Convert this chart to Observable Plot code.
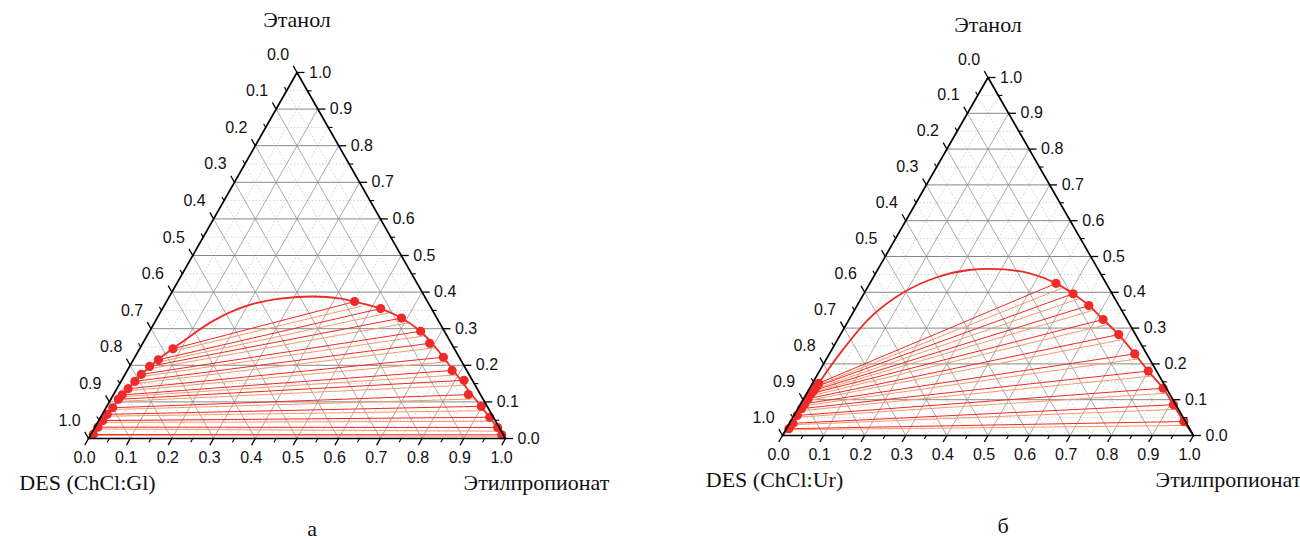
<!DOCTYPE html>
<html><head><meta charset="utf-8">
<script src="https://cdn.jsdelivr.net/npm/d3@7"></script>
<script src="https://cdn.jsdelivr.net/npm/@observablehq/plot@0.6"></script>
<style>
body{margin:0;background:#fff;}
#wrap{display:flex;width:1300px;height:540px;}
#wrap > div{width:650px;height:540px;}
</style></head><body><div id="wrap"><div id="a"></div><div id="b"></div></div>
<script>
// ---- axis values ----
const tickValues = [0,0.1,0.2,0.3,0.4,0.5,0.6,0.7,0.8,0.9,1.0];
const tickLabels = ["0.0","0.1","0.2","0.3","0.4","0.5","0.6","0.7","0.8","0.9","1.0"];
const minorValues = [0.05,0.15,0.25,0.35,0.45,0.55,0.65,0.75,0.85,0.95];
const gridValues = [0.1,0.2,0.3,0.4,0.5,0.6,0.7,0.8,0.9];
const vertexNames = ["Этанол", "Этилпропионат"];

// ---- panel а : DES (ChCl:Gl) ----  compositions as [ester, ethanol] mass fractions
const aDesLabel = "DES (ChCl:Gl)";
const aLeftS  = [0.080,0.060,0.048,0.039,0.033,0.027,0.021,0.018,0.016,0.012,0.010,0.007,0.006];
const aLeftE  = [0.245,0.215,0.197,0.175,0.156,0.136,0.119,0.107,0.084,0.066,0.049,0.031,0.011];
const aRightS = [0.451,0.523,0.586,0.650,0.688,0.740,0.779,0.821,0.851,0.898,0.933,0.966,0.986];
const aRightE = [0.374,0.355,0.329,0.293,0.260,0.222,0.186,0.159,0.120,0.088,0.058,0.030,0.010];
const aCalcLeftS  = [0.075,0.056,0.045,0.037,0.031,0.025,0.020,0.017,0.015,0.011,0.009,0.006,0.005];
const aCalcLeftE  = [0.236,0.207,0.189,0.168,0.149,0.130,0.114,0.101,0.079,0.061,0.044,0.026,0.008];
const aCalcRightS = [0.475,0.548,0.610,0.668,0.708,0.758,0.800,0.835,0.870,0.912,0.945,0.975,0.990];
const aCalcRightE = [0.362,0.343,0.316,0.281,0.248,0.210,0.174,0.146,0.108,0.076,0.047,0.020,0.006];
const aCurveS = [0.000,0.006,0.010,0.015,0.020,0.028,0.038,0.051,0.068,0.090,0.139,0.199,0.270,0.346,0.414,0.451,0.523,0.586,0.646,0.694,0.740,0.782,0.818,0.858,0.897,0.933,0.966,1.000];
const aCurveE = [0.000,0.020,0.050,0.080,0.110,0.140,0.170,0.200,0.230,0.260,0.322,0.363,0.382,0.388,0.382,0.3735,0.355,0.329,0.295,0.260,0.222,0.186,0.155,0.121,0.088,0.058,0.029,0.000];

// ---- panel б : DES (ChCl:Ur) ----
const bDesLabel = "DES (ChCl:Ur)";
const bLeftS  = [0.0153,0.0143,0.0134,0.0116,0.0112,0.0100,0.0089,0.0079,0.0088,0.0060];
const bLeftE  = [0.146,0.137,0.126,0.117,0.103,0.089,0.075,0.056,0.034,0.019];
const bRightS = [0.453,0.509,0.564,0.618,0.677,0.743,0.800,0.860,0.908,0.957];
const bRightE = [0.425,0.396,0.363,0.324,0.282,0.228,0.180,0.132,0.086,0.039];
const bCalcLeftS  = [0.015,0.014,0.013,0.011,0.011,0.010,0.009,0.008,0.008,0.006];
const bCalcLeftE  = [0.140,0.130,0.120,0.110,0.097,0.083,0.069,0.051,0.030,0.016];
const bCalcRightS = [0.475,0.530,0.582,0.636,0.694,0.758,0.816,0.873,0.921,0.968];
const bCalcRightE = [0.412,0.382,0.350,0.310,0.268,0.214,0.166,0.118,0.073,0.028];
const bCurveS = [0.000,0.005,0.008,0.010,0.012,0.0153,0.0237,0.049,0.095,0.155,0.226,0.307,0.378,0.453,0.509,0.564,0.618,0.677,0.743,0.800,0.860,0.908,0.957,1.000];
const bCurveE = [0.000,0.020,0.050,0.080,0.110,0.146,0.219,0.330,0.400,0.442,0.463,0.464,0.452,0.425,0.396,0.363,0.324,0.282,0.228,0.180,0.132,0.086,0.039,0.000];

// ---- ternary helpers ----
const SQ = Math.sqrt(3)/2;
const X = (s,e) => s + e/2;
const Y = (s,e) => e*SQ;

function gridSegs(vals){
  const out=[];
  for(const v of vals){
    out.push({a:[0,v],b:[1-v,v],k:"E"});
    out.push({a:[v,0],b:[v,1-v],k:"S"});
    out.push({a:[1-v,0],b:[0,1-v],k:"D"});
  }
  return out;
}
function tickSegs(vals,t){
  const out=[];
  for(const v of vals){
    out.push({a:[v,0],b:[v,-t]});           // bottom (ester)
    out.push({a:[1-v,v],b:[1-v+t,v]});      // right (ethanol)
    out.push({a:[0,1-v],b:[-t,1-v+t]});     // left (DES)
  }
  return out;
}
const seg = (data, o) => Plot.link(data, {x1:d=>X(...d.a), y1:d=>Y(...d.a), x2:d=>X(...d.b), y2:d=>Y(...d.b), ...o});

function panel(p){
  const ties = p.LS.map((s,i)=>({a:[s,p.LE[i]], b:[p.RS[i],p.RE[i]]}));
  const calc = p.CLS.map((s,i)=>({a:[s,p.CLE[i]], b:[p.CRS[i],p.CRE[i]]}));
  const curve = p.CS.map((s,i)=>[s,p.CE[i]]);
  const pts = [...p.LS.map((s,i)=>[s,p.LE[i]]), ...p.RS.map((s,i)=>[s,p.RE[i]])];
  const edges = [[0,0],[1,0],[0,1],[0,0]];
  const labs = tickValues.map((v,i)=>({v, t:tickLabels[i]}));
  const sans = "Liberation Sans, Arial, sans-serif";
  const serif = "Liberation Serif, Times New Roman, serif";
  return Plot.plot({
    width:650, height:540, margin:0,
    x:{domain:[0,1], range:p.xr, axis:null},
    y:{domain:[0,SQ], range:p.yr, axis:null},
    style:{background:"transparent", overflow:"visible"},
    marks:[
      seg(gridSegs(minorValues), {stroke:"#bdbdbd", strokeWidth:0.7, strokeDasharray:"1.5,2"}),
      seg(gridSegs(gridValues).filter(d=>d.k!=="E"), {stroke:"#8e8e8e", strokeWidth:0.75}),
      seg(gridSegs(gridValues).filter(d=>d.k==="E"), {stroke:"#888", strokeWidth:1}),
      seg(calc, {stroke:"#f59a6a", strokeWidth:1}),
      seg(ties, {stroke:"#ee2a24", strokeWidth:1}),
      Plot.line(curve, {x:d=>X(...d), y:d=>Y(...d), stroke:"#ee2a24", strokeWidth:1.8, curve:"catmull-rom"}),
      Plot.dot(pts, {x:d=>X(...d), y:d=>Y(...d), r:4.6, fill:"#ee2a2a", stroke:"none"}),
      Plot.line(edges, {x:d=>X(...d), y:d=>Y(...d), stroke:"#000", strokeWidth:1.7}),
      seg(tickSegs(tickValues,0.018), {stroke:"#000", strokeWidth:1.3}),
      seg(tickSegs(minorValues,0.01), {stroke:"#000", strokeWidth:1.1}),
      Plot.text(labs, {x:d=>X(d.v,0), y:0, text:"t", dx:-4, dy:19, fontSize:16, fontFamily:sans, fill:"#111"}),
      Plot.text(labs, {x:d=>X(1-d.v,d.v), y:d=>Y(1-d.v,d.v), text:"t", dx:12, textAnchor:"start", fontSize:16, fontFamily:sans, fill:"#111"}),
      Plot.text(labs, {x:d=>X(0,1-d.v), y:d=>Y(0,1-d.v), text:"t", dx:-19, dy:-18, fontSize:16, fontFamily:sans, fill:"#111"}),
      Plot.text([vertexNames[0]], {x:0.5, y:SQ, text:d=>d, dy:-53, fontSize:22, fontFamily:serif, fill:"#111"}),
      Plot.text([p.des], {x:0, y:0, text:d=>d, dx:p.desDx, dy:44, fontSize:22, fontFamily:serif, fill:"#111"}),
      Plot.text([vertexNames[1]], {x:1, y:0, text:d=>d, dx:p.estDx, dy:44, fontSize:22, fontFamily:serif, fill:"#111"}),
      Plot.text([p.cap], {x:0.5, y:0, text:d=>d, dx:15, dy:90, fontSize:22, fontFamily:serif, fill:"#111"})
    ]
  });
}

document.getElementById("a").append(panel({
  xr:[88,505], yr:[438,72], des:aDesLabel, cap:"а", desDx:-1, estDx:31,
  LS:aLeftS, LE:aLeftE, RS:aRightS, RE:aRightE,
  CLS:aCalcLeftS, CLE:aCalcLeftE, CRS:aCalcRightS, CRE:aCalcRightE,
  CS:aCurveS, CE:aCurveE
}));
document.getElementById("b").append(panel({
  xr:[132,543], yr:[435,77], des:bDesLabel, cap:"б", desDx:-8, estDx:35,
  LS:bLeftS, LE:bLeftE, RS:bRightS, RE:bRightE,
  CLS:bCalcLeftS, CLE:bCalcLeftE, CRS:bCalcRightS, CRE:bCalcRightE,
  CS:bCurveS, CE:bCurveE
}));
</script></body></html>
